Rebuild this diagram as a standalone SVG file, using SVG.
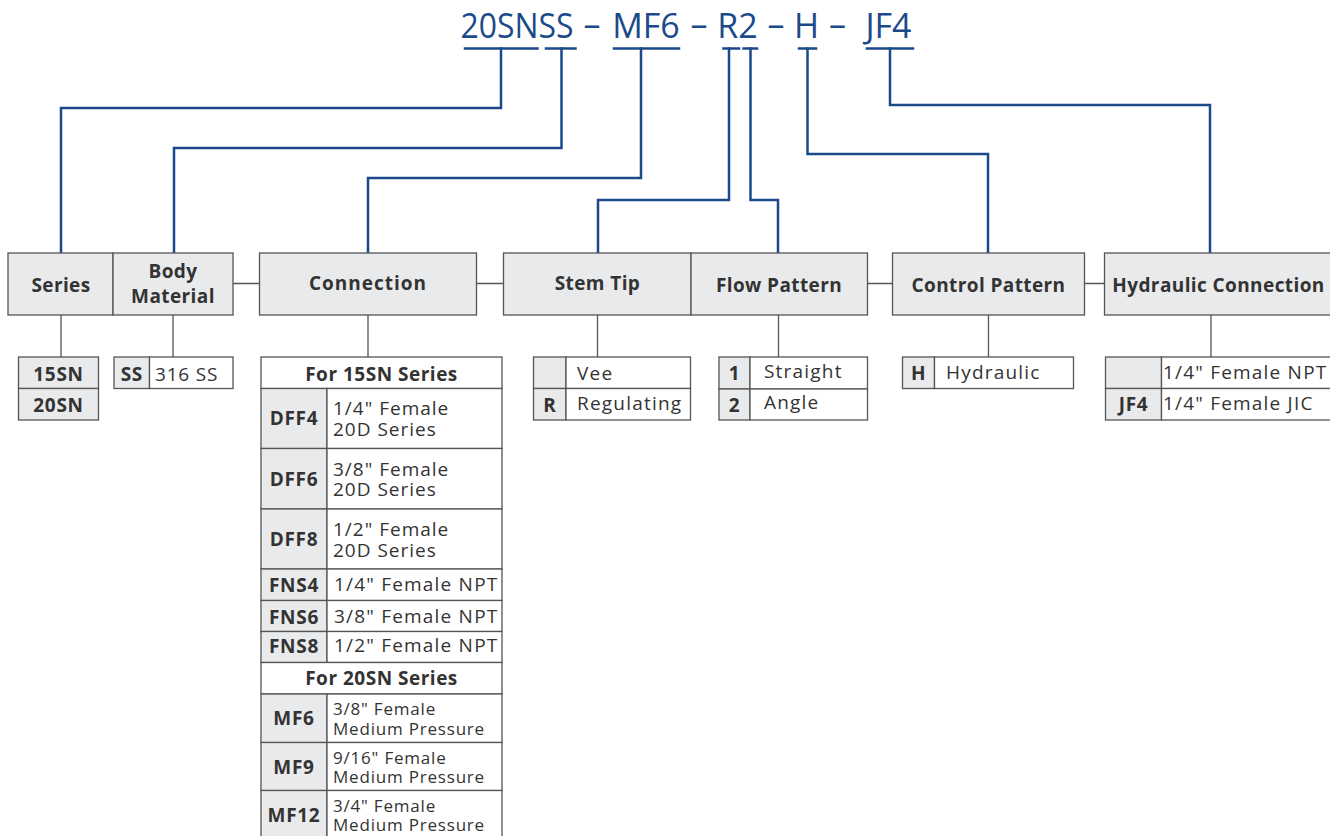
<svg xmlns="http://www.w3.org/2000/svg" width="1330" height="836" viewBox="0 0 1330 836">
<style>
.bl{stroke:#1b4a8a;stroke-width:2.5;fill:none;stroke-linecap:square}
.gl{stroke:#555;stroke-width:1.3;fill:none}
.hd{fill:#e9eaec;stroke:#555;stroke-width:1.3}
.cd{fill:#e9eaec;stroke:#555;stroke-width:1.3}
.ce{fill:#fff;stroke:#555;stroke-width:1.3}
.t{font-family:"Open Sans","Liberation Sans",sans-serif;fill:#1b4a8a;font-size:34px;text-anchor:middle}
.h{font-family:"Open Sans","Liberation Sans",sans-serif;font-weight:bold;font-size:19px;letter-spacing:0.4px;fill:#333;text-anchor:middle}
.b{font-family:"Open Sans","Liberation Sans",sans-serif;font-weight:bold;font-size:19px;letter-spacing:0.7px;fill:#333;text-anchor:middle}
.r{font-family:"Open Sans","Liberation Sans",sans-serif;font-size:19px;letter-spacing:1.2px;fill:#333}
.d{font-family:"Open Sans","Liberation Sans",sans-serif;font-size:19px;letter-spacing:1px;fill:#333}
.s{font-family:"Open Sans","Liberation Sans",sans-serif;font-size:17px;letter-spacing:0.8px;fill:#333}
</style>
<g id="title">
<text class="t" x="517" y="38" textLength="113" lengthAdjust="spacingAndGlyphs">20SNSS</text>
<text class="t" x="592" y="36">–</text>
<text class="t" x="646" y="38">MF6</text>
<text class="t" x="699" y="36">–</text>
<text class="t" x="737.5" y="38">R2</text>
<text class="t" x="776" y="36">–</text>
<text class="t" x="806.5" y="38">H</text>
<text class="t" x="837.5" y="36">–</text>
<text class="t" x="888.5" y="38">JF4</text>
</g>
<g id="connectors">
<path class="bl" d="M465 48.5H537.5M546 48.5H575.5M614 48.5H679M723.5 48.5H739M743.5 48.5H757M799 48.5H816M867 48.5H913"/>
<path class="bl" d="M501 48.5V108H61V253"/>
<path class="bl" d="M561.5 48.5V148H174V253"/>
<path class="bl" d="M641 48.5V178H368V253"/>
<path class="bl" d="M729 48.5V200H598V253"/>
<path class="bl" d="M750.5 48.5V200H778V253"/>
<path class="bl" d="M807.5 48.5V154H988V253"/>
<path class="bl" d="M890 48.5V105H1210V253"/>
<path class="gl" d="M233 283.5H259M476.5 283.5H503.5M867.5 283.5H892.5M1084.5 283.5H1104.5"/>
<path class="gl" d="M61 315V357M173 315V357M368 315V357M597.5 315V357M778.5 315V357M988.5 315V357M1211 315V357"/>
</g>
<g id="series">
<rect class="hd" x="8" y="253" width="105" height="62"/>
<text class="h" x="61" y="292">Series</text>
<rect class="cd" x="18.5" y="357" width="80" height="31.5"/>
<rect class="cd" x="18.5" y="388.5" width="80" height="31.5"/>
<text class="b" x="58.5" y="381">15SN</text>
<text class="b" x="58.5" y="412">20SN</text>
</g>
<g id="body-material">
<rect class="hd" x="113" y="253" width="120" height="62"/>
<text class="h" x="173" y="278">Body</text>
<text class="h" x="173" y="303">Material</text>
<rect class="cd" x="114" y="357" width="35.5" height="31.5"/>
<rect class="ce" x="149.5" y="357" width="83.5" height="31.5"/>
<text class="b" x="131.8" y="381">SS</text>
<text class="r" x="155" y="381" style="letter-spacing:0.8px">316 SS</text>
</g>
<g id="connection">
<rect class="hd" x="259.5" y="253" width="217" height="62"/>
<text class="h" x="368" y="290" style="letter-spacing:1px">Connection</text>
<rect class="ce" x="261" y="357" width="241" height="31.5"/>
<text class="b" x="381.5" y="380.5" style="letter-spacing:0.5px">For 15SN Series</text>
<rect class="cd" x="261" y="388.5" width="66" height="60"/>
<rect class="ce" x="327" y="388.5" width="175" height="60"/>
<text class="b" x="294" y="425">DFF4</text>
<text class="d" x="333" y="415">1/4" Female</text>
<text class="d" x="333" y="436">20D Series</text>
<rect class="cd" x="261" y="448.5" width="66" height="60.5"/>
<rect class="ce" x="327" y="448.5" width="175" height="60.5"/>
<text class="b" x="294" y="486">DFF6</text>
<text class="d" x="333" y="475.5">3/8" Female</text>
<text class="d" x="333" y="496">20D Series</text>
<rect class="cd" x="261" y="509" width="66" height="60"/>
<rect class="ce" x="327" y="509" width="175" height="60"/>
<text class="b" x="294" y="546">DFF8</text>
<text class="d" x="333" y="536">1/2" Female</text>
<text class="d" x="333" y="557">20D Series</text>
<rect class="cd" x="261" y="569" width="66" height="31.5"/>
<rect class="ce" x="327" y="569" width="175" height="31.5"/>
<text class="b" x="294" y="592">FNS4</text>
<text class="r" x="334" y="591">1/4" Female NPT</text>
<rect class="cd" x="261" y="600.5" width="66" height="31"/>
<rect class="ce" x="327" y="600.5" width="175" height="31"/>
<text class="b" x="294" y="623.5">FNS6</text>
<text class="r" x="334" y="622.5">3/8" Female NPT</text>
<rect class="cd" x="261" y="631.5" width="66" height="31"/>
<rect class="ce" x="327" y="631.5" width="175" height="31"/>
<text class="b" x="294" y="653">FNS8</text>
<text class="r" x="334" y="652">1/2" Female NPT</text>
<rect class="ce" x="261" y="662.5" width="241" height="31.5"/>
<text class="b" x="381.5" y="685" style="letter-spacing:0.5px">For 20SN Series</text>
<rect class="cd" x="261" y="694" width="66" height="48.5"/>
<rect class="ce" x="327" y="694" width="175" height="48.5"/>
<text class="b" x="294" y="725">MF6</text>
<text class="s" x="333" y="715">3/8" Female</text>
<text class="s" x="333" y="735">Medium Pressure</text>
<rect class="cd" x="261" y="742.5" width="66" height="48"/>
<rect class="ce" x="327" y="742.5" width="175" height="48"/>
<text class="b" x="294" y="773.5">MF9</text>
<text class="s" x="333" y="763.5">9/16" Female</text>
<text class="s" x="333" y="783">Medium Pressure</text>
<rect class="cd" x="261" y="790.5" width="66" height="60"/>
<rect class="ce" x="327" y="790.5" width="175" height="60"/>
<text class="b" x="294" y="822">MF12</text>
<text class="s" x="333" y="812">3/4" Female</text>
<text class="s" x="333" y="831">Medium Pressure</text>
</g>
<g id="stem-tip">
<rect class="hd" x="503.5" y="253" width="187.5" height="62"/>
<text class="h" x="597.5" y="290">Stem Tip</text>
<rect class="cd" x="533.5" y="357" width="32.5" height="31.5"/>
<rect class="ce" x="566" y="357" width="124.5" height="31.5"/>
<rect class="cd" x="533.5" y="388.5" width="32.5" height="31.5"/>
<rect class="ce" x="566" y="388.5" width="124.5" height="31.5"/>
<text class="r" x="577" y="380">Vee</text>
<text class="b" x="549.8" y="412">R</text>
<text class="r" x="577" y="410">Regulating</text>
</g>
<g id="flow-pattern">
<rect class="hd" x="691" y="253" width="176.5" height="62"/>
<text class="h" x="779" y="291.5">Flow Pattern</text>
<rect class="cd" x="719" y="357" width="31" height="32"/>
<rect class="ce" x="750" y="357" width="117.5" height="32"/>
<rect class="cd" x="719" y="389" width="31" height="31"/>
<rect class="ce" x="750" y="389" width="117.5" height="31"/>
<text class="b" x="734.5" y="380">1</text>
<text class="r" x="764" y="378">Straight</text>
<text class="b" x="734.5" y="412">2</text>
<text class="r" x="764" y="409">Angle</text>
</g>
<g id="control-pattern">
<rect class="hd" x="892.5" y="253" width="192" height="62"/>
<text class="h" x="988.5" y="291.5">Control Pattern</text>
<rect class="cd" x="902.5" y="357" width="32" height="31.5"/>
<rect class="ce" x="934.5" y="357" width="139" height="31.5"/>
<text class="b" x="918.5" y="380">H</text>
<text class="r" x="946" y="378.5">Hydraulic</text>
</g>
<g id="hydraulic-connection">
<rect class="hd" x="1104.5" y="253" width="240" height="62"/>
<text class="h" x="1218.5" y="291.5">Hydraulic Connection</text>
<rect class="cd" x="1105.5" y="357" width="56" height="31.5"/>
<rect class="ce" x="1161.5" y="357" width="180" height="31.5"/>
<rect class="cd" x="1105.5" y="388.5" width="56" height="31.5"/>
<rect class="ce" x="1161.5" y="388.5" width="180" height="31.5"/>
<text class="r" x="1163" y="378.5">1/4" Female NPT</text>
<text class="b" x="1133.5" y="411">JF4</text>
<text class="r" x="1163" y="410">1/4" Female JIC</text>
</g>
</svg>
